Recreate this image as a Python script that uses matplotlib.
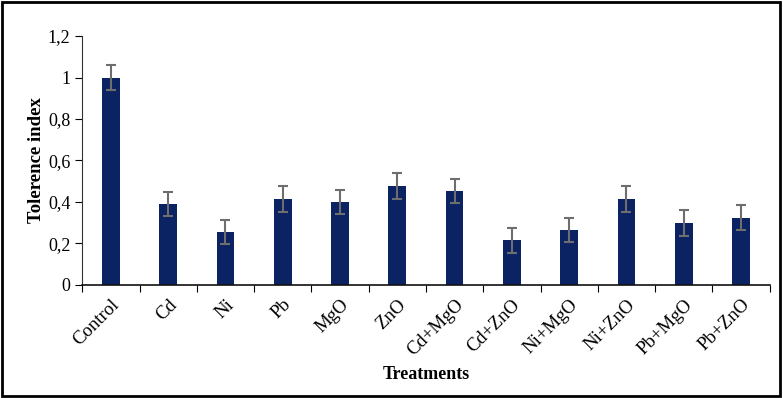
import matplotlib.pyplot as plt
from matplotlib.patches import Rectangle
import numpy as np

treatments = ['Control', 'Cd', 'Ni', 'Pb', 'MgO', 'ZnO', 'Cd+MgO', 'Cd+ZnO',
              'Ni+MgO', 'Ni+ZnO', 'Pb+MgO', 'Pb+ZnO']
tolerance = [1.0, 0.39, 0.255, 0.415, 0.40, 0.477, 0.453, 0.215, 0.263, 0.416, 0.300, 0.324]
errors = [0.058, 0.058, 0.058, 0.062, 0.06, 0.061, 0.056, 0.062, 0.058, 0.063, 0.063, 0.061]

plt.rcParams['font.family'] = ['Liberation Serif', 'DejaVu Serif']

fig = plt.figure(figsize=(7.83, 3.98), dpi=100)
ax = fig.add_axes([0.105, 0.284, 0.878, 0.6255])

x = np.arange(len(treatments))
ax.bar(x, tolerance, width=0.31, color='#0b2263', zorder=2)
ax.errorbar(x, tolerance, yerr=errors, fmt='none', ecolor='#6e6e6e',
            elinewidth=1.5, capsize=3.5, capthick=1.5, zorder=3)

ax.set_xlim(-0.5, len(treatments) - 0.5)
ax.set_ylim(0, 1.2)
ax.set_yticks([0, 0.2, 0.4, 0.6, 0.8, 1.0, 1.2])
ax.set_yticklabels(['0', '0,2', '0,4', '0,6', '0,8', '1', '1,2'], fontsize=13)

# tick marks sit between categories, labels at bar centres
ax.set_xticks(np.arange(-0.5, len(treatments)), minor=False)
ax.set_xticklabels([])
ax.set_xticks(x, minor=True)
ax.set_xticklabels(treatments, minor=True, rotation=45, ha='right',
                   rotation_mode='anchor', fontsize=13.5)
ax.tick_params(axis='x', which='minor', length=0, pad=8)
ax.tick_params(axis='x', which='major', length=5, direction='out')
ax.tick_params(axis='y', length=5, direction='out')

for s in ['top', 'right']:
    ax.spines[s].set_visible(False)
ax.spines['left'].set_color('#333333')
ax.spines['bottom'].set_color('#111111')
ax.spines['bottom'].set_linewidth(1.2)

ax.set_ylabel('Tolerence index', fontsize=13.5, fontweight='bold', labelpad=2)
ax.set_xlabel('Treatments', fontsize=13, fontweight='bold', labelpad=5)

fig.patches.append(Rectangle((0.003, 0.005), 0.993, 0.99, transform=fig.transFigure,
                             fill=False, edgecolor='black', linewidth=2))

fig.savefig('out.png', dpi=100)
